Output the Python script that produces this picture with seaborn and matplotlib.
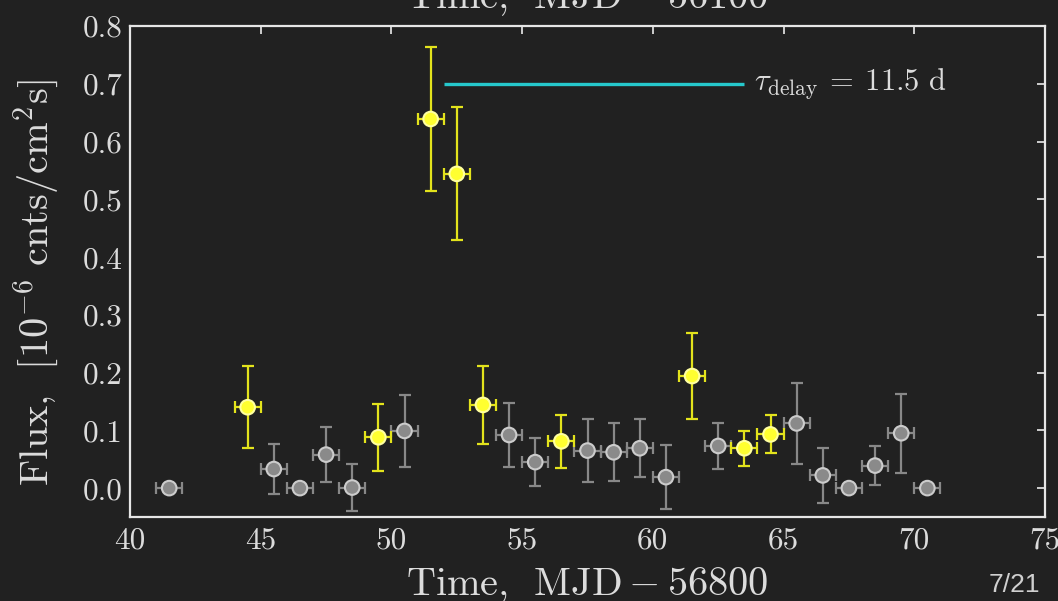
import numpy as np
import pandas as pd
import matplotlib
matplotlib.use("Agg")
import matplotlib.pyplot as plt
import seaborn as sns

# ---------------- data ----------------
gray_t = [41.5, 45.5, 46.5, 47.5, 48.5, 50.5, 54.5, 55.5, 57.5, 58.5, 59.5,
          60.5, 62.5, 65.5, 66.5, 67.5, 68.5, 69.5, 70.5]
gray_flux = [0.0, 0.033, 0.0, 0.058, 0.001, 0.099, 0.092, 0.045, 0.065, 0.062, 0.069,
             0.019, 0.073, 0.112, 0.022, 0.0, 0.039, 0.095, 0.0]
gray_err = [0.0, 0.044, 0.0, 0.047, 0.040, 0.063, 0.055, 0.042, 0.055, 0.050, 0.050,
            0.055, 0.040, 0.070, 0.048, 0.0, 0.034, 0.068, 0.0]

yel_t = [44.5, 49.5, 51.5, 52.5, 53.5, 56.5, 61.5, 63.5, 64.5]
yel_flux = [0.140, 0.088, 0.639, 0.544, 0.144, 0.081, 0.194, 0.069, 0.093]
yel_err = [0.071, 0.058, 0.125, 0.115, 0.068, 0.046, 0.075, 0.030, 0.033]

bin_half_width = 0.5
delay_start = 52.0
delay_days = 11.5
delay_level = 0.70

xticks = [40, 45, 50, 55, 60, 65, 70, 75]
yticks = [0.0, 0.1, 0.2, 0.3, 0.4, 0.5, 0.6, 0.7, 0.8]

df = pd.DataFrame({
    "t": gray_t + yel_t,
    "flux": gray_flux + yel_flux,
    "err": gray_err + yel_err,
    "group": ["gray"] * len(gray_t) + ["yellow"] * len(yel_t),
})

# ---------------- style ----------------
BG = "#212121"
FG = "#dcdcdc"
sns.set_theme(style="white")
plt.rcParams["font.family"] = ["cmr10", "DejaVu Serif"]
plt.rcParams["mathtext.fontset"] = "cm"
plt.rcParams["axes.unicode_minus"] = False

fig = plt.figure(figsize=(10.58, 6.01), dpi=100, facecolor=BG)
ax = fig.add_axes([130 / 1058, 1 - 517 / 601, (1045 - 130) / 1058, (517 - 26) / 601])
ax.set_facecolor(BG)

styles = {
    "gray": dict(bar="#888888", face="#8a8a8a", edge="#cccccc"),
    "yellow": dict(bar="#e3e31c", face="#ffff30", edge="#ffffa0"),
}
for g, st in styles.items():
    d = df[df.group == g]
    ax.errorbar(d.t, d.flux, yerr=d.err, xerr=bin_half_width, fmt="none",
                ecolor=st["bar"], elinewidth=1.6, capsize=4.5, capthick=1.6, zorder=2)

sns.scatterplot(data=df, x="t", y="flux", hue="group",
                palette={g: s["face"] for g, s in styles.items()},
                s=110, linewidth=1.5, ax=ax, legend=False, zorder=3)
coll = ax.collections[-1]
coll.set_edgecolor([styles[g]["edge"] for g in df.group])

# delay line
ax.plot([delay_start, delay_start + delay_days], [delay_level, delay_level],
        color="#26c8cc", lw=2.4, solid_capstyle="butt", zorder=4)
ax.text(delay_start + delay_days + 0.35, delay_level,
        r"$\tau_{\rm delay}\:=\:11.5\ {\rm d}$", color=FG, fontsize=22,
        va="center", ha="left")

ax.set_xlim(40, 75)
ax.set_ylim(-0.05, 0.8)
ax.set_xticks(xticks)
ax.set_yticks(yticks)
ax.set_xticklabels([str(v) for v in xticks])
ax.set_yticklabels([f"{v:.1f}" for v in yticks])
ax.tick_params(direction="in", length=6, width=1.3, colors=FG, labelsize=22.5,
               top=True, right=True, labeltop=False, labelright=False)
ax.tick_params(axis="x", pad=7)
ax.tick_params(axis="y", pad=5)
for sp in ax.spines.values():
    sp.set_color("#e6e6e6")
    sp.set_linewidth(1.6)
ax.set_xlabel("")
ax.set_ylabel("")

# labels
fig.text(587 / 1058, 1 - 595 / 601, r"$\mathrm{Time,\ \,MJD} - 56800$",
         color=FG, fontsize=29, ha="center", va="baseline")
fig.text(587 / 1058, 1 - 8 / 601, r"$\mathrm{Time,\ \,MJD} - 56100$",
         color=FG, fontsize=29, ha="center", va="baseline")
fig.text(36 / 1058, 1 - 283 / 601, r"$\mathrm{Flux,\ \,[10^{-6}\ cnts/cm^2 s]}$",
         color=FG, fontsize=29, ha="center", va="center", rotation=90)
fig.text(1040 / 1058, 1 - 592 / 601, "7/21", color="#d0d0d0", fontsize=19,
         ha="right", va="baseline", family=["Liberation Sans", "DejaVu Sans"])

fig.savefig("out.png", dpi=100, facecolor=BG)
